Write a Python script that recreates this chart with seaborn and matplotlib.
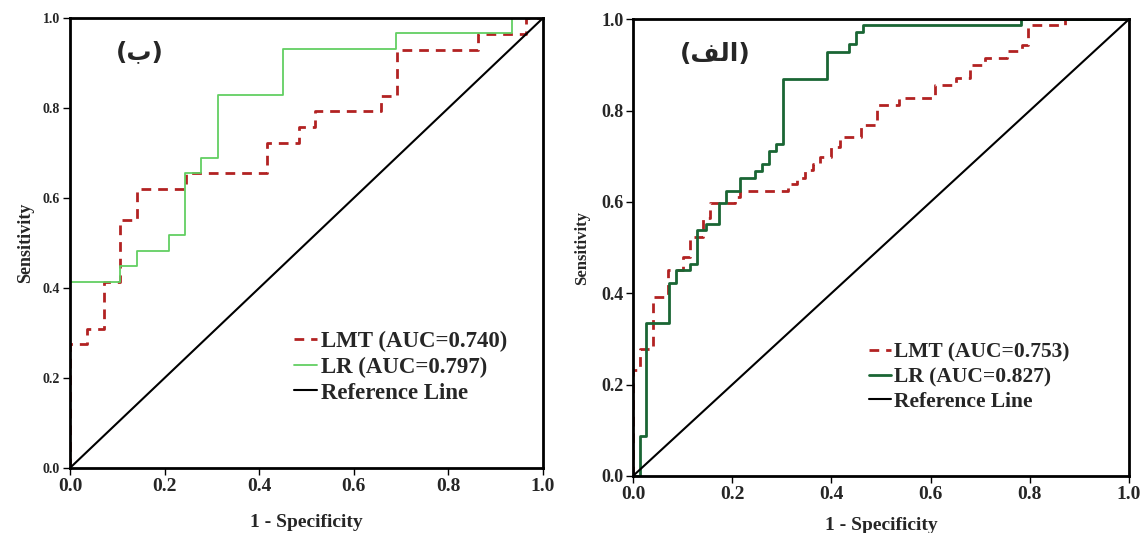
import pandas as pd
import matplotlib.pyplot as plt
import seaborn as sns

# ROC points (1 - specificity, sensitivity)
# left panel (ب)
b_lmt_fpr = [0, 0, 0.037, 0.072, 0.106, 0.141, 0.245, 0.416, 0.485, 0.518, 0.657, 0.692, 0.863, 0.965, 1.0]
b_lmt_tpr = [0, 0.275, 0.309, 0.413, 0.551, 0.62, 0.655, 0.723, 0.759, 0.793, 0.827, 0.93, 0.965, 1.0, 1.0]
b_lr_fpr = [0, 0, 0.106, 0.141, 0.21, 0.243, 0.278, 0.312, 0.45, 0.69, 0.934, 1.0]
b_lr_tpr = [0, 0.414, 0.448, 0.483, 0.517, 0.655, 0.69, 0.828, 0.931, 0.966, 1.0, 1.0]

# right panel (الف)
a_lmt_fpr = [0, 0, 0.014, 0.041, 0.07, 0.1, 0.115, 0.142, 0.155, 0.205, 0.216, 0.313, 0.33, 0.347,
             0.363, 0.377, 0.4, 0.417, 0.46, 0.491, 0.537, 0.609, 0.652, 0.679, 0.71, 0.753, 0.784,
             0.797, 0.87, 1.0]
a_lmt_tpr = [0, 0.232, 0.277, 0.392, 0.45, 0.48, 0.524, 0.564, 0.597, 0.611, 0.624, 0.64, 0.653, 0.67,
             0.684, 0.699, 0.72, 0.742, 0.769, 0.812, 0.827, 0.856, 0.871, 0.9, 0.914, 0.93, 0.943,
             0.987, 1.0, 1.0]
a_lr_fpr = [0, 0.014, 0.027, 0.073, 0.086, 0.115, 0.13, 0.147, 0.173, 0.1875, 0.216, 0.246, 0.261,
            0.274, 0.288, 0.303, 0.392, 0.435, 0.449, 0.464, 0.783, 1.0]
a_lr_tpr = [0, 0.0875, 0.334, 0.422, 0.451, 0.465, 0.538, 0.551, 0.597, 0.624, 0.653, 0.668, 0.683,
            0.711, 0.726, 0.87, 0.929, 0.945, 0.972, 0.987, 1.0, 1.0]

ref_line = [0, 1]
ticks = [0.0, 0.2, 0.4, 0.6, 0.8, 1.0]
legend_b = ["LMT (AUC=0.740)", "LR (AUC=0.797)", "Reference Line"]
legend_a = ["LMT (AUC=0.753)", "LR (AUC=0.827)", "Reference Line"]
panel_labels = ["(ب)", "(الف)"]

# matplotlib has no arabic shaping: pick contextual forms and reverse by hand
FORMS = {  # isolated, final, initial, medial
    'ا': ('\uFE8D', '\uFE8E', None, None),
    'ل': ('\uFEDD', '\uFEDE', '\uFEDF', '\uFEE0'),
    'ف': ('\uFED1', '\uFED2', '\uFED3', '\uFED4'),
    'ب': ('\uFE8F', '\uFE90', '\uFE91', '\uFE92'),
}


def shape_rtl(s):
    word = s.strip("()")
    out = []
    for i, ch in enumerate(word):
        prev_joins = i > 0 and FORMS[word[i - 1]][2] is not None
        next_joins = i < len(word) - 1 and FORMS[ch][2] is not None
        iso, fin, ini, med = FORMS[ch]
        if prev_joins and next_joins:
            out.append(med)
        elif prev_joins:
            out.append(fin)
        elif next_joins:
            out.append(ini)
        else:
            out.append(iso)
    return "(" + "".join(reversed(out)) + ")"


sns.set_theme(style="white")
plt.rcParams['font.family'] = ['Liberation Serif', 'DejaVu Sans']
plt.rcParams['font.weight'] = 'bold'

fig = plt.figure(figsize=(11.43, 5.33), dpi=100)
ax_b = fig.add_axes([0.0612, 0.122, 0.4138, 0.844])
ax_a = fig.add_axes([0.5538, 0.107, 0.434, 0.857])

RED = '#b22222'
panels = [
    (ax_b, b_lmt_fpr, b_lmt_tpr, b_lr_fpr, b_lr_tpr, '#62cf62', 1.3, legend_b, panel_labels[0]),
    (ax_a, a_lmt_fpr, a_lmt_tpr, a_lr_fpr, a_lr_tpr, '#1a6634', 2.0, legend_a, panel_labels[1]),
]

for i, (ax, lx, ly, gx, gy, gcol, glw, leg, plab) in enumerate(panels):
    lmt = pd.DataFrame({'fpr': lx, 'tpr': ly})
    lr = pd.DataFrame({'fpr': gx, 'tpr': gy})
    sns.lineplot(data=lmt, x='fpr', y='tpr', ax=ax, estimator=None, sort=False,
                 drawstyle='steps-post', color=RED, linewidth=2, linestyle=(0, (3.5, 2.5)),
                 label=leg[0])
    sns.lineplot(data=lr, x='fpr', y='tpr', ax=ax, estimator=None, sort=False,
                 drawstyle='steps-post', color=gcol, linewidth=glw, label=leg[1])
    sns.lineplot(x=ref_line, y=ref_line, ax=ax, color='black', linewidth=1.5, label=leg[2])

    ax.set_xlim(0, 1)
    ax.set_ylim(0, 1)
    ax.set_xticks(ticks)
    ax.set_yticks(ticks)
    ax.set_xticklabels([f"{t:.1f}" for t in ticks])
    ax.set_yticklabels([f"{t:.1f}" for t in ticks])
    ax.tick_params(axis='both', direction='out', length=5, width=1, color='black',
                   bottom=True, left=True, pad=2)
    ax.tick_params(axis='x', labelsize=14)
    ax.tick_params(axis='y', labelsize=10 if i == 0 else 13)
    for sp in ax.spines.values():
        sp.set_color('black')
        sp.set_linewidth(2)

    ax.set_xlabel("1 - Specificity", fontsize=14, fontweight='bold',
                  labelpad=14 if i == 0 else 10)
    ax.set_ylabel("Sensitivity", fontsize=13 if i == 0 else 12, fontweight='bold',
                  labelpad=6 if i == 0 else 8)

    ax.text(0.148 if i == 0 else 0.165, 0.924, shape_rtl(plab), transform=ax.transAxes,
            ha='center', va='center', fontsize=18, fontweight='bold',
            family=['DejaVu Sans'])

    anchor = (0.45, 0.33) if i == 0 else (0.455, 0.315)
    ax.legend(loc='upper left', bbox_to_anchor=anchor, frameon=False,
              prop={'size': 16.5 if i == 0 else 15.5, 'weight': 'bold'},
              handlelength=1.0, handletextpad=0.15, labelspacing=0.2, borderpad=0)

fig.savefig('out.png', dpi=100)
